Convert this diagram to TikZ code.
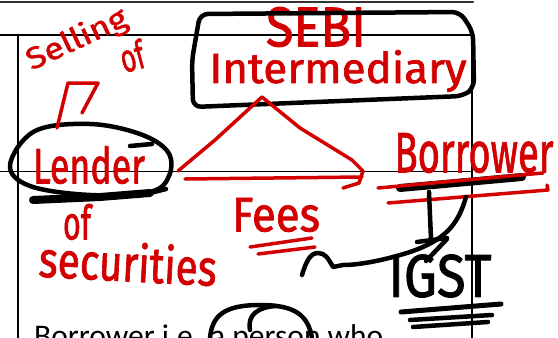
\documentclass[tikz,border=0pt]{standalone}
\usepackage{fontspec}
\setmainfont{Carlito}
\newfontfamily\penfont{Fira Sans}[FakeBold=1.6]
\usetikzlibrary{arrows.meta}

\definecolor{penred}{RGB}{210,0,0}
\newcommand\penword[3]{\resizebox*{#1}{#2}{#3}}

\begin{document}
\begin{tikzpicture}
  [x=1pt,y=-1pt,line cap=round,line join=round,
   % Styles
   frame line/.style={line width=1.4pt},
   black pen/.style={line width=4.5pt},
   red pen/.style={line width=3.5pt,penred},
   pen text/.style={inner sep=0pt,text=penred,font=\penfont},
   ink text/.style={inner sep=0pt,text=black,font=\penfont}]

  \useasboundingbox (0,0) rectangle (558,338);
  \clip (0,0) rectangle (558,338);

  % The page underneath
  \draw[line width=2.5pt,black!80] (0,2) -- (473,2);
  \draw[frame line] (0,35) -- (472,35);
  \draw[frame line] (18,338) -- (18,35);
  \draw[frame line] (472,35) -- (472,338);
  \draw[frame line] (0,171.5) -- (472,171.5);
  \node[anchor=base west,inner sep=0pt,font=\fontsize{31.5}{36}\selectfont]
    (note) at (34,346) {Borrower i.e. a person who};

  % Words
  \node[pen text,rotate=25] (selling) at (77,40) {\penword{108pt}{30pt}{Selling}};
  \node[pen text,rotate=15] (sellof) at (132,56) {\penword{24pt}{30pt}{of}};
  \node[pen text] (sebi) at (316,27) {\penword{100pt}{40pt}{SEBI}};
  \node[pen text] (intermediary) at (338,71) {\penword{257pt}{42pt}{Intermediary}};
  \node[pen text] (lender) at (89,165) {\penword{112pt}{38pt}{Lender}};
  \node[pen text] (lendof) at (77,222) {\penword{28pt}{36pt}{of}};
  \node[pen text,rotate=-3] (securities) at (128,262) {\penword{178pt}{40pt}{securities}};
  \node[pen text] (borrower) at (474,153) {\penword{159pt}{40pt}{Borrower}};
  \node[pen text] (fees) at (276,215) {\penword{88pt}{34pt}{Fees}};
  \node[ink text] (igst) at (440,276) {\penword{103pt}{43pt}{IGST}};

  % Black rings and underlines
  \draw[black pen] plot[smooth cycle,tension=0.6] coordinates
    {(10,165) (35,131) (90,124) (140,134) (168,152) (169,176) (150,192) (90,195) (30,186)};
  \draw[black pen] (130,146) -- (152,144);
  \draw[line width=8pt] (33,200) -- (100,197) -- (150,193);
  \draw[black pen] (150,193) -- (166,189);
  \draw[black pen,rounded corners=8pt]
    (200,14) -- (460,12) -- (473,32) -- (474,88) -- (463,96) -- (193,107) -- (192,60) -- cycle;
  \draw[line width=8pt] (400,188) -- (522,177);
  \draw[line width=5pt] (401,312) -- (501,304);
  \draw[black pen] (410,320) -- (492,315);
  \draw[black pen] (413,327) -- (488,322);

  % Red underlines
  \draw[red pen] (378,188) -- (543,173);
  \draw[red pen] (388,203) -- (548,190) -- (547,185);
  \draw[red pen] (250,247) -- (312,238);
  \draw[red pen] (258,254) -- (315,247);

  % Red connectors
  \coordinate (apex) at (262,97);
  \coordinate (lend right) at (178,171);
  \coordinate (tip) at (362,177);
  \draw[red pen] (lend right) -- (215,140) -- (apex) -- (300,128) -- (352,160);
  \draw[red pen] (185,179) -- (tip);
  \draw[red pen] (352,160) -- (363,171) -- (359,183) -- (343,188);
  \draw[red pen] (57,128) -- (68,83) -- (98,83) -- (82,113);

  % Black connectors
  \draw[black pen] (429,192) -- (431,239);
  \draw[black pen] (417,242) -- (447,238);
  \draw[black pen] (466,197) .. controls (458,225) and (445,240) .. (410,252)
    .. controls (385,260) and (360,265) .. (343,265) -- (333,267)
    .. controls (328,258) and (325,253) .. (318,253)
    .. controls (310,253) and (306,262) .. (302,275);
  \draw[black pen] (447,239) -- (426,261);
  \draw[black pen] (210,338) .. controls (212,315) and (225,305) .. (260,305)
    .. controls (295,305) and (308,315) .. (312,338);
  \draw[black pen] (250,330) .. controls (247,315) and (258,307) .. (276,306);
\end{tikzpicture}
\end{document}
